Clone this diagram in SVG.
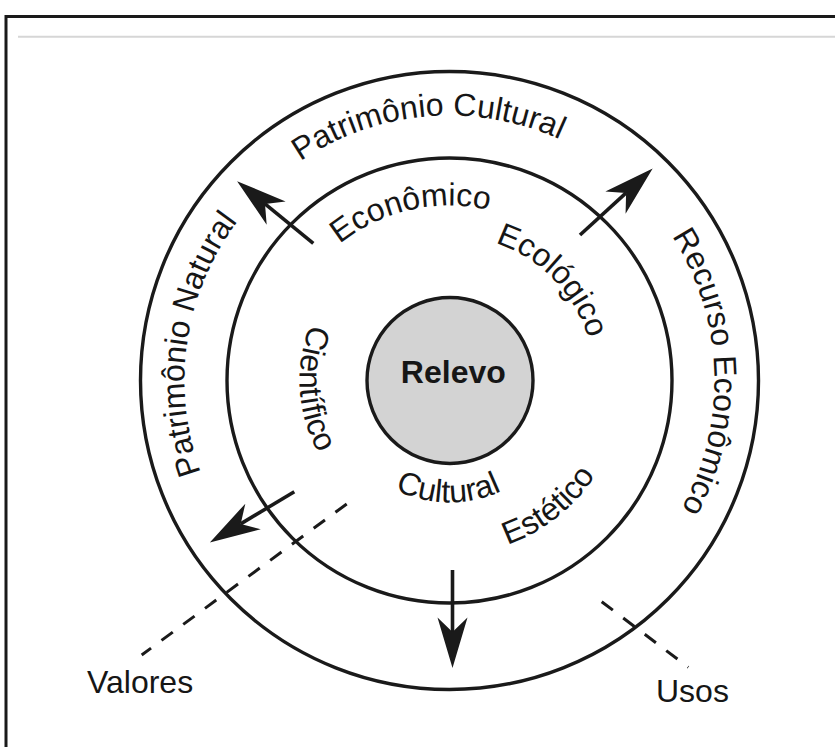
<svg xmlns="http://www.w3.org/2000/svg" width="835" height="747" viewBox="0 0 835 747">
  <style>
    .ring { fill: none; stroke: #1a1a1a; stroke-width: 3.4; }
    .lbl { font-family: "Liberation Sans", Arial, sans-serif; font-size: 32px; fill: #161616; }
    .arrow { stroke: #1a1a1a; stroke-width: 3.6; fill: none; marker-end: url(#head); }
    .dash { stroke: #1a1a1a; stroke-width: 3; fill: none; stroke-dasharray: 14 13; }
  </style>
  <defs>
    <marker id="head" markerUnits="userSpaceOnUse" orient="auto" refX="0" refY="0" markerWidth="60" markerHeight="40" viewBox="-15 -15 50 30" overflow="visible">
      <path d="M30,0 L-12,-12.5 L0,0 L-12,12.5 Z" fill="#1a1a1a"/>
    </marker>
    <path id="pCult" d="M209.6,267.9 A265,265 0 0 1 667.0,229.1"/>
    <path id="pNat" d="M285.3,588.5 A265,265 0 0 1 351.5,134.3"/>
    <path id="pRec" d="M573.9,146.5 A265,265 0 0 1 589.9,605.2"/>
    <path id="pEcon" d="M282.2,329.0 A175,175 0 0 1 577.7,261.4"/>
    <path id="pEcol" d="M413.9,239.9 A145,145 0 0 1 589.0,420.0"/>
    <path id="pCien" d="M366.7,255.4 A150,150 0 0 0 382.6,514.7"/>
    <path id="pCultu" d="M343.2,440.4 A122,122 0 0 0 554.5,442.6"/>
    <path id="pEst" d="M384.9,542.1 A174,174 0 0 0 621.7,355.7"/>
  </defs>
  <rect width="835" height="747" fill="#ffffff"/>
  <path d="M6,747 V16.5 H835" fill="none" stroke="#1a1a1a" stroke-width="3"/>
  <line x1="18" y1="36.7" x2="835" y2="36.7" stroke="#d6d6d6" stroke-width="2"/>

  <g id="outer-ring">
    <circle class="ring" cx="449.5" cy="380.5" r="309"/>
    <text class="lbl"><textPath href="#pCult" startOffset="50%" text-anchor="middle">Patrimônio Cultural</textPath></text>
    <text class="lbl"><textPath href="#pNat" startOffset="50%" text-anchor="middle">Patrimônio Natural</textPath></text>
    <text class="lbl"><textPath href="#pRec" startOffset="50%" text-anchor="middle">Recurso Econômico</textPath></text>
  </g>

  <g id="inner-ring">
    <circle class="ring" cx="449.5" cy="380.5" r="222.5"/>
    <text class="lbl"><textPath href="#pEcon" startOffset="50%" text-anchor="middle">Econômico</textPath></text>
    <text class="lbl"><textPath href="#pEcol" startOffset="50%" text-anchor="middle">Ecológico</textPath></text>
    <text class="lbl"><textPath href="#pCien" startOffset="50%" text-anchor="middle">Científico</textPath></text>
    <text class="lbl"><textPath href="#pCultu" startOffset="50%" text-anchor="middle">Cultural</textPath></text>
    <text class="lbl"><textPath href="#pEst" startOffset="50%" text-anchor="middle">Estético</textPath></text>
  </g>

  <g id="relevo">
    <circle cx="450" cy="380.5" r="83" fill="#d3d3d3" stroke="#1a1a1a" stroke-width="3.4"/>
    <text class="lbl" x="453.3" y="383.3" text-anchor="middle" font-weight="bold" font-size="31.5">Relevo</text>
  </g>

  <g id="valores">
    <text class="lbl" x="87" y="693">Valores</text>
  </g>
  <g id="usos">
    <text class="lbl" x="656" y="702">Usos</text>
  </g>

  <g id="connectors">
    <line class="arrow" x1="313.3" y1="243.3" x2="265.0" y2="203.9"/>
    <line class="arrow" x1="580" y1="235" x2="626.1" y2="192.9"/>
    <line class="arrow" x1="294.3" y1="491.7" x2="240.7" y2="523.9"/>
    <line class="arrow" x1="452.5" y1="570" x2="452.5" y2="632"/>
    <line class="dash" x1="346.7" y1="504" x2="141.7" y2="655"/>
    <line class="dash" x1="601.7" y1="601.7" x2="688.3" y2="667.3" stroke-dasharray="13 14"/>
  </g>
</svg>
